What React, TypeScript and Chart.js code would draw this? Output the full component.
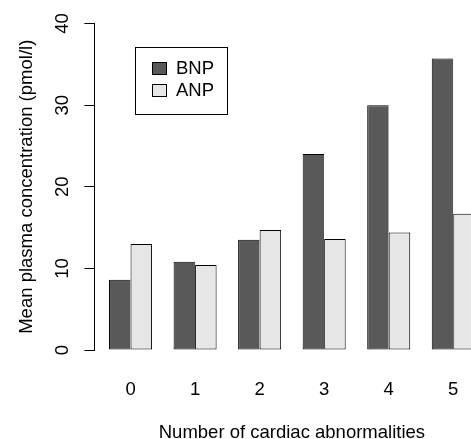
import React, { useEffect, useRef } from "react";
import { Chart, registerables } from "chart.js";

Chart.register(...registerables);

// ---- data ----
const categories = ["0", "1", "2", "3", "4", "5"];
const bnpValues = [8.6, 10.8, 13.5, 24.0, 30.0, 35.7];
const anpValues = [13.0, 10.4, 14.7, 13.6, 14.4, 16.7];
const seriesNames = ["BNP", "ANP"];
const seriesColors = ["#595959", "#e6e6e6"];
const yTicks = [0, 10, 20, 30, 40];
const xTitle = "Number of cardiac abnormalities";
const yTitle = "Mean plasma concentration (pmol/l)";

// ---- style ----
const FONT = "'Liberation Sans', Arial, Helvetica, sans-serif";
const FS = 18.5;
const CANVAS_W = 500;
const CANVAS_H = 460;

// each group = 2 bars + 1 gap (3 units) on a linear axis, like R's barplot(beside=TRUE)
const groupPos = categories.map((_, i) => 3 * i + 2);

const boxLegend = {
  id: "boxLegend",
  afterDraw(chart: any) {
    const ctx = chart.ctx as CanvasRenderingContext2D;
    ctx.save();
    ctx.lineWidth = 1;
    ctx.strokeStyle = "#000";
    ctx.strokeRect(135.5, 47.5, 92, 67);
    ctx.font = `${FS}px ${FONT}`;
    ctx.textBaseline = "middle";
    ctx.textAlign = "left";
    chart.data.datasets.forEach((ds: any, i: number) => {
      const y = 62.5 + i * 22;
      ctx.fillStyle = ds.backgroundColor;
      ctx.fillRect(152.5, y, 14, 12);
      ctx.strokeRect(152.5, y, 14, 12);
      ctx.fillStyle = "#000";
      ctx.fillText(ds.label, 176, y + 6.5);
    });
    ctx.restore();
  },
};

// R-style y tick labels, drawn parallel to the axis (rotated) from the scale's own ticks
const rotatedYLabels = {
  id: "rotatedYLabels",
  afterDraw(chart: any) {
    const scale = chart.scales.y;
    const ctx = chart.ctx as CanvasRenderingContext2D;
    ctx.save();
    ctx.font = `${FS}px ${FONT}`;
    ctx.fillStyle = "#000";
    ctx.textAlign = "center";
    ctx.textBaseline = "middle";
    const x = scale.right - 31.1;
    scale.ticks.forEach((t: any) => {
      const y = scale.getPixelForValue(t.value);
      ctx.save();
      ctx.translate(x, y);
      ctx.rotate(-Math.PI / 2);
      ctx.fillText(String(t.label ?? t.value), 0, 0);
      ctx.restore();
    });
    ctx.restore();
  },
};

export default function App() {
  const ref = useRef<HTMLCanvasElement>(null);

  useEffect(() => {
    const canvas = ref.current!;
    const chart = new Chart(canvas, {
      type: "bar",
      data: {
        datasets: [
          {
            label: seriesNames[0],
            data: categories.map((_, i) => ({ x: groupPos[i], y: bnpValues[i] })),
            backgroundColor: seriesColors[0],
            borderColor: "#000",
            borderWidth: { top: 1, left: 1, bottom: 1, right: 0 },
            borderSkipped: false,
            inflateAmount: 0,
            categoryPercentage: 2 / 3,
            barPercentage: 1,
          } as any,
          {
            label: seriesNames[1],
            data: categories.map((_, i) => ({ x: groupPos[i], y: anpValues[i] })),
            backgroundColor: seriesColors[1],
            borderColor: "#000",
            borderWidth: 1,
            borderSkipped: false,
            inflateAmount: 0,
            categoryPercentage: 2 / 3,
            barPercentage: 1,
          } as any,
        ],
      },
      options: {
        responsive: false,
        animation: false,
        devicePixelRatio: 1,
        layout: { padding: { top: 23.5, left: 0, right: CANVAS_W - 489.4, bottom: 0 } },
        plugins: {
          legend: { display: false },
          tooltip: { enabled: false },
        },
        scales: {
          x: {
            type: "linear",
            offset: false,
            min: 0.32,
            max: 18.68,
            afterBuildTicks: (axis: any) => {
              axis.ticks = groupPos.map((v) => ({ value: v }));
            },
            afterFit: (s: any) => {
              s.height = CANVAS_H - 350;
            },
            grid: { display: false, offset: false },
            border: { display: false },
            ticks: {
              autoSkip: false,
              maxRotation: 0,
              minRotation: 0,
              padding: 20.4,
              color: "#000",
              font: { family: FONT, size: FS, lineHeight: 1.2 },
              callback: (v: any) => {
                const idx = groupPos.indexOf(Number(v));
                return idx >= 0 ? categories[idx] : "";
              },
            },
            title: {
              display: true,
              text: xTitle,
              color: "#000",
              font: { family: FONT, size: FS, lineHeight: 1.2 },
              padding: { top: 0, bottom: 16.3 },
            },
          },
          y: {
            type: "linear",
            min: 0,
            max: 40,
            afterBuildTicks: (axis: any) => {
              axis.ticks = yTicks.map((v) => ({ value: v }));
            },
            afterFit: (s: any) => {
              s.width = 94.4;
            },
            grid: {
              display: true,
              drawOnChartArea: false,
              drawTicks: true,
              tickLength: 10,
              color: "#000",
              lineWidth: 1,
            },
            border: { display: true, color: "#000", width: 1 },
            ticks: {
              display: false,
              color: "#000",
              font: { family: FONT, size: FS, lineHeight: 1.2 },
            },
            title: {
              display: true,
              text: yTitle,
              color: "#000",
              font: { family: FONT, size: FS, lineHeight: 1.2 },
              padding: { top: 15.4, bottom: 0 },
            },
          },
        },
      },
      plugins: [boxLegend, rotatedYLabels],
    } as any);
    return () => chart.destroy();
  }, []);

  return (
    <div
      style={{
        position: "fixed",
        left: 0,
        top: 0,
        width: 471,
        height: 439,
        overflow: "hidden",
        background: "#fff",
      }}
    >
      <canvas ref={ref} width={CANVAS_W} height={CANVAS_H} style={{ display: "block" }} />
    </div>
  );
}
